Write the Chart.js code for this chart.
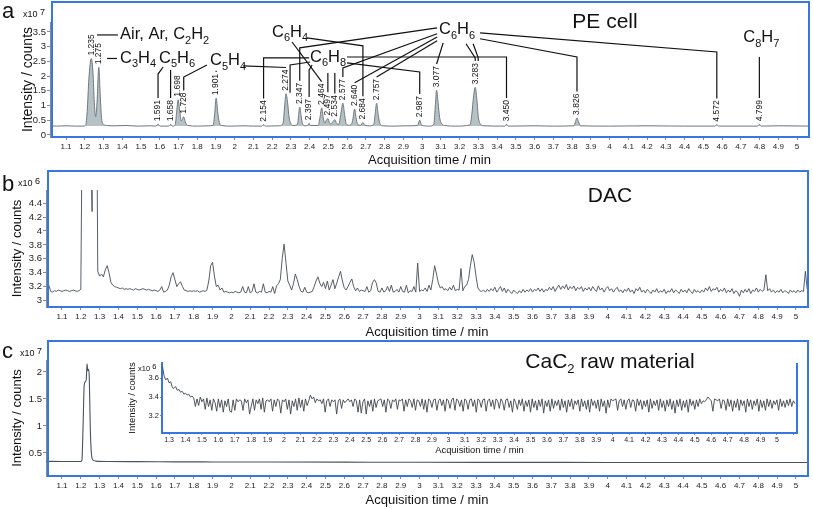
<!DOCTYPE html>
<html>
<head>
<meta charset="utf-8">
<script src="https://cdn.jsdelivr.net/npm/chart.js@4.4.1/dist/chart.umd.min.js"></script>
<style>
  html, body { margin: 0; padding: 0; background: #fff; }
  #wrap { position: relative; width: 813px; height: 509px; overflow: hidden; }
  canvas { position: absolute; }
</style>
</head>
<body>
<div id="wrap">
  <canvas id="chartA" width="813" height="170" style="left:0px;top:0px"></canvas>
  <canvas id="chartB" width="813" height="175" style="left:0px;top:165px"></canvas>
  <canvas id="chartC" width="813" height="174" style="left:0px;top:335px"></canvas>
  <canvas id="chartInset" width="713" height="105" style="left:100px;top:355px"></canvas>
</div>
<script>
const FONT = 'Arial, "Liberation Sans", sans-serif';
const BLUE = '#3877e3';
const AXIS_GREY = '#8a8a8a';

// ---- panel a: PE cell (x10^7 counts) ----
const peTrace = [
  [1.015,0.31],[1.05,0.30],[1.1,0.31],[1.15,0.30],[1.195,0.30],
  [1.205,0.34],[1.213,0.8],[1.222,1.9],[1.235,2.6],[1.244,2.1],[1.251,1.1],[1.258,0.62],
  [1.265,1.05],[1.275,2.3],[1.283,1.3],[1.29,0.55],[1.3,0.36],[1.32,0.32],[1.36,0.31],[1.42,0.32],[1.48,0.30],[1.55,0.31],
  [1.58,0.30],[1.591,0.36],[1.602,0.30],[1.647,0.30],[1.658,0.36],[1.668,0.30],
  [1.682,0.34],[1.69,0.75],[1.698,1.2],[1.706,0.85],[1.714,0.48],[1.72,0.52],[1.728,0.62],[1.736,0.45],[1.75,0.32],[1.8,0.30],[1.86,0.31],
  [1.885,0.33],[1.893,0.7],[1.901,1.25],[1.909,0.8],[1.918,0.42],[1.93,0.32],[1.98,0.30],[2.05,0.31],[2.1,0.30],
  [2.145,0.30],[2.154,0.35],[2.163,0.30],[2.24,0.31],
  [2.258,0.4],[2.266,0.95],[2.274,1.4],[2.282,1.1],[2.29,0.6],[2.3,0.38],[2.31,0.32],
  [2.335,0.36],[2.341,0.7],[2.347,0.95],[2.354,0.65],[2.362,0.38],[2.375,0.31],
  [2.39,0.33],[2.397,0.4],[2.404,0.32],[2.445,0.32],[2.455,0.6],[2.464,0.92],[2.472,0.6],[2.48,0.4],
  [2.489,0.5],[2.497,0.56],[2.506,0.4],[2.515,0.38],[2.525,0.46],[2.534,0.52],[2.543,0.4],
  [2.555,0.36],[2.566,0.7],[2.577,1.08],[2.586,0.7],[2.595,0.38],[2.61,0.33],
  [2.628,0.45],[2.634,0.7],[2.64,0.88],[2.647,0.6],[2.656,0.36],[2.672,0.33],[2.684,0.42],[2.694,0.33],[2.72,0.31],
  [2.742,0.36],[2.75,0.75],[2.757,1.08],[2.765,0.7],[2.775,0.38],[2.79,0.31],[2.85,0.30],[2.92,0.31],
  [2.975,0.32],[2.987,0.5],[2.997,0.33],[3.04,0.30],
  [3.062,0.36],[3.07,0.95],[3.077,1.52],[3.085,1.1],[3.093,0.6],[3.105,0.38],[3.12,0.32],[3.18,0.30],
  [3.255,0.34],[3.265,0.7],[3.275,1.35],[3.283,1.62],[3.292,1.2],[3.3,0.6],[3.312,0.36],[3.33,0.31],
  [3.44,0.30],[3.45,0.36],[3.46,0.30],[3.6,0.31],[3.7,0.30],[3.81,0.31],[3.818,0.45],[3.826,0.58],[3.834,0.45],[3.845,0.31],
  [4.0,0.30],[4.2,0.31],[4.4,0.30],[4.562,0.30],[4.572,0.35],[4.582,0.30],[4.79,0.30],[4.799,0.36],[4.808,0.30],[4.9,0.31],[5.064,0.30]
];
const peLabelTimes = [1.235,1.275,1.591,1.658,1.698,1.728,1.901,2.154,2.274,2.347,2.397,2.464,2.497,2.534,
  2.577,2.640,2.684,2.757,2.987,3.077,3.283,3.450,3.826,4.572,4.799];
const chemNames = ['Air, Ar, C_2H_2','C_3H_4','C_5H_6','C_5H_4','C_6H_4','C_6H_8','C_6H_6','C_8H_7'];
const chemAnchors = [[1.388,3.40],[1.388,2.60],[1.596,2.60],[1.868,2.52],[2.199,3.50],[2.402,2.65],[3.09,3.57],[4.713,3.30]];
const peRules = [
  { from: [1.265, 3.40], to: [1.377, 3.40] },
  { from: [1.319, 2.60], to: [1.372, 2.60] }
];
const leaders = [
  { from: [1.618, 2.31], via: 2.07, peak: 1.591 },
  { from: [1.658, 2.21], peak: 1.658 },
  { from: [1.852, 2.38], via: 1.97, peak: 1.728 },
  { from: [1.901, 2.18], peak: 1.901 },
  { from: [2.044, 2.35], peak: 2.274 },
  { from: [2.386, 3.30], via: 3.03, peak: 2.684 },
  { from: [2.306, 3.16], peak: 2.464 },
  { from: [2.397, 2.62], via: 2.62, peak: 2.154 },
  { from: [2.402, 2.48], via: 2.38, peak: 2.274, side: true },
  { from: [2.413, 2.38], via: 2.21, peak: 2.397 },
  { from: [2.497, 2.11], peak: 2.497 },
  { from: [2.534, 2.11], peak: 2.534 },
  { from: [2.599, 2.45], via: 2.14, peak: 2.987 },
  { from: [2.599, 2.65], via: 2.65, peak: 3.450 },
  { from: [3.08, 3.64], via: 2.96, peak: 2.347 },
  { from: [3.08, 3.44], via: 2.28, peak: 2.577 },
  { from: [3.08, 3.33], peak: 2.640 },
  { from: [3.08, 3.20], peak: 2.757 },
  { from: [3.112, 3.13], peak: 3.077 },
  { from: [3.234, 3.10], via: 2.62, peak: 3.283 },
  { from: [3.256, 3.10], via: 2.62, peak: 3.283, dx: 3 },
  { from: [3.309, 3.27], via: 2.65, peak: 3.826 },
  { from: [3.309, 3.47], via: 2.82, peak: 4.572 },
  { from: [4.799, 2.65], peak: 4.799 }
];

// ---- panel b: DAC (x10^6 counts), one value every 0.01 min from 1.03 ----
const dacStart = 1.03, dacStep = 0.01;
const dacValues = [
  3.22,3.13,3.12,3.14,3.13,3.15,3.14,
  3.13,3.14,3.15,3.14,3.13,3.14,3.15,3.14,3.13,3.14,
  3.16,6.5,15,25,14,5.6,4.28,12,8,3.42,
  3.35,3.38,3.34,3.44,3.5,3.4,3.26,3.22,3.2,3.19,
  3.18,3.17,3.18,3.16,3.17,3.16,3.17,3.16,3.15,3.17,
  3.16,3.15,3.16,3.17,3.16,3.15,3.16,3.15,3.14,3.15,
  3.14,3.13,3.15,3.2,3.12,3.13,3.15,3.22,3.34,3.4,
  3.3,3.2,3.24,3.27,3.2,3.15,3.14,3.13,3.14,3.13,
  3.14,3.13,3.14,3.12,3.13,3.14,3.13,3.15,3.28,3.5,
  3.55,3.35,3.2,3.22,3.15,3.18,3.12,3.13,3.12,3.11,
  3.12,3.11,3.13,3.12,3.11,3.12,3.2,3.12,3.11,3.2,
  3.11,3.13,3.24,3.12,3.11,3.13,3.12,3.24,3.12,3.11,
  3.13,3.12,3.2,3.1,3.21,3.24,3.3,3.6,3.81,3.55,
  3.28,3.22,3.15,3.24,3.38,3.3,3.2,3.13,3.12,3.19,
  3.12,3.11,3.12,3.13,3.2,3.28,3.34,3.25,3.2,3.26,
  3.17,3.28,3.15,3.22,3.3,3.17,3.25,3.34,3.42,3.28,
  3.18,3.15,3.2,3.26,3.31,3.2,3.14,3.18,3.13,3.15,
  3.14,3.13,3.2,3.12,3.14,3.26,3.3,3.25,3.13,3.12,
  3.18,3.12,3.14,3.2,3.13,3.22,3.12,3.13,3.16,3.12,
  3.2,3.13,3.12,3.22,3.11,3.14,3.13,3.2,3.12,3.54,
  3.13,3.15,3.14,3.18,3.13,3.22,3.15,3.3,3.5,3.38,
  3.25,3.18,3.2,3.15,3.17,3.14,3.19,3.15,3.22,3.14,
  3.16,3.15,3.46,3.14,3.2,3.22,3.3,3.5,3.66,3.55,
  3.35,3.18,3.14,3.13,3.15,3.12,3.16,3.13,3.17,3.14,
  3.19,3.12,3.16,3.2,3.13,3.18,3.11,3.16,3.13,3.1,
  3.15,3.12,3.1,3.14,3.11,3.16,3.12,3.15,3.13,3.17,
  3.12,3.16,3.14,3.18,3.13,3.17,3.12,3.16,3.14,3.19,
  3.15,3.2,3.13,3.18,3.22,3.16,3.21,3.17,3.23,3.15,
  3.2,3.17,3.21,3.14,3.19,3.16,3.2,3.13,3.18,3.15,
  3.19,3.14,3.2,3.16,3.13,3.21,3.15,3.18,3.12,3.17,
  3.2,3.14,3.17,3.12,3.16,3.19,3.13,3.15,3.11,3.16,
  3.13,3.18,3.12,3.15,3.1,3.17,3.14,3.19,3.12,3.15,
  3.11,3.16,3.13,3.1,3.15,3.12,3.17,3.11,3.14,3.12,
  3.16,3.1,3.14,3.12,3.17,3.11,3.15,3.13,3.1,3.16,
  3.12,3.15,3.11,3.17,3.13,3.1,3.16,3.12,3.14,3.11,
  3.15,3.12,3.18,3.14,3.2,3.13,3.17,3.15,3.19,3.12,
  3.16,3.13,3.18,3.11,3.15,3.12,3.17,3.1,3.14,3.12,
  3.06,3.15,3.11,3.16,3.12,3.17,3.1,3.15,3.13,3.18,
  3.12,3.16,3.13,3.15,3.37,3.14,3.17,3.12,3.15,3.11,
  3.14,3.12,3.16,3.11,3.14,3.13,3.1,3.15,3.12,3.14,
  3.11,3.15,3.12,3.14,3.13,3.42,3.16
];

// ---- panel c: CaC2 raw material (x10^7 counts) ----
const cacTrace = [
  [1.016,0.345],[1.1,0.342],[1.15,0.343],[1.2,0.343],[1.206,0.37],[1.212,1.0],[1.218,1.75],[1.224,1.82],
  [1.229,1.86],[1.233,2.15],[1.237,2.02],[1.241,2.05],[1.245,1.9],[1.25,1.0],[1.255,0.55],[1.262,0.38],
  [1.28,0.35],[1.35,0.342],[1.5,0.34],[1.7,0.336],[1.9,0.334],[2.2,0.332],[2.6,0.33],[3.0,0.328],
  [3.5,0.326],[4.0,0.325],[4.5,0.324],[5.064,0.323]
];
// inset (x10^6 counts), one value every 0.01 min from 1.26
const insetStart = 1.26, insetStep = 0.01;
const insetValues = [
  3.72,3.62,3.58,3.6,
  3.55,3.56,3.5,3.49,3.51,3.47,3.48,3.45,3.46,3.43,
  3.44,3.42,3.43,3.4,3.41,3.39,3.3,3.38,3.31,3.4,
  3.35,3.38,3.27,3.39,3.3,3.37,3.26,3.38,3.34,3.25,
  3.38,3.29,3.37,3.24,3.36,3.3,3.38,3.25,3.24,3.37,
  3.26,3.38,3.35,3.37,3.36,3.26,3.38,3.34,3.37,3.22,
  3.3,3.38,3.26,3.37,3.33,3.38,3.27,3.39,3.24,3.36,
  3.37,3.35,3.38,3.25,3.37,3.3,3.38,3.36,3.23,3.37,
  3.35,3.38,3.27,3.37,3.22,3.36,3.3,3.38,3.26,3.39,
  3.29,3.37,3.25,3.38,3.31,3.36,3.42,3.38,3.4,3.34,
  3.38,3.36,3.37,3.33,3.38,3.24,3.36,3.38,3.3,3.37,
  3.35,3.37,3.22,3.36,3.38,3.28,3.37,3.34,3.36,3.38,
  3.35,3.37,3.3,3.38,3.36,3.24,3.37,3.23,3.35,3.38,
  3.22,3.36,3.3,3.37,3.25,3.38,3.29,3.36,3.37,3.38,
  3.3,3.37,3.24,3.38,3.36,3.28,3.37,3.35,3.38,3.27,
  3.37,3.36,3.38,3.25,3.37,3.3,3.38,3.36,3.29,3.38,
  3.26,3.37,3.36,3.3,3.38,3.27,3.37,3.24,3.38,3.36,
  3.29,3.37,3.38,3.26,3.36,3.38,3.31,3.37,3.25,3.38,
  3.36,3.28,3.37,3.39,3.26,3.38,3.36,3.3,3.37,3.25,
  3.38,3.36,3.27,3.37,3.38,3.3,3.37,3.24,3.38,3.36,
  3.29,3.37,3.38,3.25,3.36,3.38,3.3,3.37,3.27,3.38,
  3.36,3.28,3.38,3.35,3.26,3.37,3.38,3.29,3.36,3.24,
  3.38,3.34,3.27,3.37,3.31,3.38,3.25,3.36,3.3,3.37,
  3.24,3.38,3.29,3.36,3.26,3.37,3.3,3.38,3.23,3.36,
  3.3,3.37,3.25,3.38,3.28,3.36,3.31,3.37,3.26,3.38,
  3.29,3.36,3.24,3.37,3.3,3.38,3.27,3.36,3.32,3.37,
  3.25,3.38,3.3,3.36,3.27,3.37,3.24,3.38,3.31,3.36,
  3.28,3.37,3.25,3.38,3.3,3.36,3.23,3.37,3.29,3.38,
  3.36,3.37,3.38,3.26,3.36,3.38,3.3,3.37,3.27,3.36,
  3.38,3.29,3.37,3.36,3.25,3.38,3.31,3.37,3.27,3.36,
  3.3,3.37,3.24,3.38,3.28,3.36,3.31,3.37,3.26,3.38,
  3.29,3.36,3.25,3.37,3.3,3.38,3.27,3.36,3.23,3.37,
  3.3,3.38,3.26,3.36,3.29,3.37,3.24,3.38,3.31,3.36,
  3.27,3.37,3.3,3.38,3.33,3.36,3.35,3.37,3.4,3.38,
  3.36,3.25,3.38,3.37,3.36,3.38,3.28,3.37,3.36,3.26,
  3.38,3.3,3.37,3.25,3.36,3.29,3.38,3.26,3.37,3.31,
  3.36,3.24,3.38,3.3,3.37,3.27,3.36,3.31,3.38,3.25,
  3.37,3.29,3.36,3.26,3.38,3.3,3.37,3.28,3.36,3.32,
  3.37,3.26,3.38,3.3,3.36,3.29,3.37,3.31,3.38,3.3,3.36,3.33
];

// ---------- helpers ----------
const fmt = limit => v => (v > limit ? '' : String(Math.round(v * 10) / 10));
const toXY = pairs => pairs.map(([x, y]) => ({ x, y }));
const seriesXY = (start, step, vals) => vals.map((y, i) => ({ x: +(start + i * step).toFixed(3), y }));
const parseChem = s => s.split(/(_\d)/).filter(Boolean).map(p => (p[0] === '_' ? [p.slice(1), 1] : [p, 0]));

function drawRich(ctx, segs, x, y, size, align) {
  const subSize = Math.round(size * 0.64);
  const widths = segs.map(([s, sub]) => {
    ctx.font = `${sub ? subSize : size}px ${FONT}`;
    return ctx.measureText(s).width;
  });
  let cx = align === 'center' ? x - widths.reduce((a, b) => a + b, 0) / 2 : x;
  ctx.textAlign = 'left';
  ctx.textBaseline = 'middle';
  segs.forEach(([s, sub], i) => {
    ctx.font = `${sub ? subSize : size}px ${FONT}`;
    ctx.fillText(s, cx, sub ? y + size * 0.36 : y);
    cx += widths[i];
  });
}

// blue frame around each panel
const framePlugin = {
  id: 'frame',
  afterDraw(chart, args, opts) {
    const { ctx, chartArea: a } = chart;
    ctx.save();
    ctx.strokeStyle = BLUE;
    ctx.lineWidth = 2;
    ctx.beginPath();
    if (opts.rightOnly) {
      ctx.moveTo(a.right, a.top);
      ctx.lineTo(a.right, a.bottom);
    } else {
      ctx.rect(a.left + 2, a.top - opts.above, a.right - a.left - 2, a.bottom - a.top + opts.above);
    }
    ctx.stroke();
    ctx.restore();
  }
};

// panel letter, exponent and title
const decorPlugin = {
  id: 'decor',
  afterDraw(chart, args, o) {
    const { ctx } = chart;
    ctx.save();
    ctx.fillStyle = '#111';
    if (o.letter) {
      ctx.font = `22px ${FONT}`;
      ctx.textAlign = 'left';
      ctx.textBaseline = 'middle';
      ctx.fillText(o.letter, o.letterAt[0], o.letterAt[1]);
    }
    if (o.exp) {
      ctx.font = `${o.expSize}px ${FONT}`;
      ctx.textAlign = 'left';
      ctx.textBaseline = 'middle';
      ctx.fillText('x10', o.expAt[0], o.expAt[1]);
      const w = ctx.measureText('x10 ').width;
      ctx.fillText(o.exp, o.expAt[0] + w, o.expAt[1] - o.expSize * 0.3);
    }
    if (o.title) drawRich(ctx, parseChem(o.title), o.titleAt[0], o.titleAt[1], 21, 'center');
    ctx.restore();
  }
};

// peak labels and assignments in panel a
const peAnnotations = {
  id: 'peAnnotations',
  afterDatasetsDraw(chart) {
    const { ctx, scales: { x, y } } = chart;
    ctx.save();
    ctx.fillStyle = '#111';
    ctx.strokeStyle = '#111';
    ctx.lineWidth = 1.2;
    ctx.font = `8.5px ${FONT}`;
    const tops = {}, apex = {};
    peLabelTimes.forEach(t => {
      const pt = peTrace.find(p => Math.abs(p[0] - t) < 1e-6);
      const px = x.getPixelForValue(t), py = y.getPixelForValue(pt[1]);
      const txt = t.toFixed(3);
      const w = ctx.measureText(txt).width;
      ctx.save();
      ctx.translate(px, py - 3);
      ctx.rotate(-Math.PI / 2);
      ctx.textAlign = 'left';
      ctx.textBaseline = 'middle';
      ctx.fillText(txt, 0, 0);
      ctx.restore();
      tops[txt] = py - 3 - w - 2;
      apex[txt] = py - 1;
    });
    leaders.forEach(l => {
      const key = l.peak.toFixed(3);
      const px = x.getPixelForValue(l.peak) + (l.dx || 0) + (l.side ? 4 : 0);
      ctx.beginPath();
      ctx.moveTo(x.getPixelForValue(l.from[0]) + (l.dx || 0), y.getPixelForValue(l.from[1]));
      if (l.via !== undefined) ctx.lineTo(px, y.getPixelForValue(l.via));
      ctx.lineTo(px, l.side ? apex[key] : tops[key]);
      ctx.stroke();
    });
    peRules.forEach(r => {
      ctx.beginPath();
      ctx.moveTo(x.getPixelForValue(r.from[0]), y.getPixelForValue(r.from[1]));
      ctx.lineTo(x.getPixelForValue(r.to[0]), y.getPixelForValue(r.to[1]));
      ctx.stroke();
    });
    chemNames.forEach((n, i) => {
      drawRich(ctx, parseChem(n), x.getPixelForValue(chemAnchors[i][0]), y.getPixelForValue(chemAnchors[i][1]), 16.5, 'left');
    });
    ctx.restore();
  }
};

function timeAxis(min, max, height, titlePad, opts = {}) {
  return {
    type: 'linear', min, max,
    afterFit: s => { s.height = height; },
    border: opts.border || { display: false },
    grid: { drawOnChartArea: false, tickLength: opts.tickLength || 3, color: AXIS_GREY },
    ticks: {
      stepSize: 0.1, includeBounds: false, autoSkip: false, maxRotation: 0, minRotation: 0,
      padding: opts.tickPad === undefined ? 2 : opts.tickPad,
      font: { family: FONT, size: opts.tickSize || 8 }, color: '#222', callback: fmt(5.01)
    },
    title: {
      display: true, text: 'Acquisition time / min',
      font: { family: FONT, size: opts.titleSize || 13 }, color: '#111',
      padding: { top: 0, bottom: titlePad }
    }
  };
}

function intensityAxis(min, max, step, width, titleSize, titlePad, opts = {}) {
  return {
    min, max,
    afterFit: s => { s.width = width; },
    border: opts.border || { display: true, color: AXIS_GREY, width: 1 },
    grid: { drawOnChartArea: false, tickLength: opts.tickLength || 3, color: AXIS_GREY },
    ticks: {
      stepSize: step, includeBounds: false, padding: 1,
      font: { family: FONT, size: opts.tickSize || 9.5 }, color: '#222',
      callback: fmt(opts.limit || 99)
    },
    title: {
      display: true, text: 'Intensity / counts',
      font: { family: FONT, size: titleSize }, color: '#111',
      padding: { top: titlePad, bottom: 0 }
    }
  };
}

const common = {
  responsive: false,
  animation: false,
  events: [],
  plugins: { legend: { display: false }, tooltip: { enabled: false } }
};

// ---------- panel a ----------
new Chart(document.getElementById('chartA'), {
  type: 'line',
  data: {
    datasets: [{
      data: toXY(peTrace),
      borderColor: '#6e787d',
      backgroundColor: '#b6c1c6',
      borderWidth: 1,
      pointRadius: 0,
      cubicInterpolationMode: 'monotone',
      fill: { value: 0.3 }
    }]
  },
  options: {
    ...common,
    layout: { padding: { top: 22, right: 4, left: 0, bottom: 0 } },
    scales: {
      x: timeAxis(1.0146, 5.0638, 33, 2),
      y: intensityAxis(-0.07, 3.84, 0.5, 50, 14, 19.6)
    },
    plugins: {
      ...common.plugins,
      frame: { above: 20 },
      decor: { letter: 'a', letterAt: [2, 12], exp: '7', expSize: 9, expAt: [23, 15], title: 'PE cell', titleAt: [605, 22] }
    }
  },
  plugins: [peAnnotations, framePlugin, decorPlugin]
});

// ---------- panel b ----------
new Chart(document.getElementById('chartB'), {
  type: 'line',
  data: {
    datasets: [{
      data: seriesXY(dacStart, dacStep, dacValues),
      borderColor: '#454d52',
      borderWidth: 0.9,
      pointRadius: 0,
      tension: 0,
      fill: false
    }]
  },
  options: {
    ...common,
    layout: { padding: { top: 25, right: 5, left: 0, bottom: 0 } },
    scales: {
      x: timeAxis(1.015, 5.064, 33, 0),
      y: intensityAxis(2.906, 4.59, 0.2, 46, 13, 9.2, { limit: 4.45 })
    },
    plugins: {
      ...common.plugins,
      frame: { above: 19 },
      decor: { letter: 'b', letterAt: [2, 20], exp: '6', expSize: 9, expAt: [18, 19], title: 'DAC', titleAt: [610, 31] }
    }
  },
  plugins: [framePlugin, decorPlugin]
});

// ---------- panel c ----------
new Chart(document.getElementById('chartC'), {
  type: 'line',
  data: {
    datasets: [{
      data: toXY(cacTrace),
      borderColor: '#4a5358',
      borderWidth: 1.1,
      pointRadius: 0,
      cubicInterpolationMode: 'monotone',
      fill: false
    }]
  },
  options: {
    ...common,
    layout: { padding: { top: 25, right: 5, left: 0, bottom: 0 } },
    scales: {
      x: timeAxis(1.015, 5.064, 33, 1.2),
      y: intensityAxis(0.074, 2.22, 0.5, 46, 13, 9.2)
    },
    plugins: {
      ...common.plugins,
      frame: { above: 19 },
      decor: { letter: 'c', letterAt: [2, 17], exp: '7', expSize: 9, expAt: [20, 19], title: 'CaC_2 raw material', titleAt: [610, 27] }
    }
  },
  plugins: [framePlugin, decorPlugin]
});

// ---------- inset in panel c ----------
new Chart(document.getElementById('chartInset'), {
  type: 'line',
  data: {
    datasets: [{
      data: seriesXY(insetStart, insetStep, insetValues),
      borderColor: '#3d4549',
      borderWidth: 0.9,
      pointRadius: 0,
      tension: 0,
      fill: false
    }]
  },
  options: {
    ...common,
    layout: { padding: { top: 8, right: 16, left: 0, bottom: 0 } },
    scales: {
      x: timeAxis(1.257, 5.122, 27, 3.6, {
        border: { display: true, color: BLUE, width: 2 }, tickLength: 2, tickPad: 1, tickSize: 7, titleSize: 9.4
      }),
      y: intensityAxis(3.021, 3.758, 0.2, 62, 9.5, 26.3, {
        border: { display: true, color: BLUE, width: 2 }, tickLength: 2, tickSize: 7.5
      })
    },
    plugins: {
      ...common.plugins,
      frame: { rightOnly: true },
      decor: { exp: '6', expSize: 7.5, expAt: [38, 14] }
    }
  },
  plugins: [framePlugin, decorPlugin]
});
</script>
</body>
</html>
